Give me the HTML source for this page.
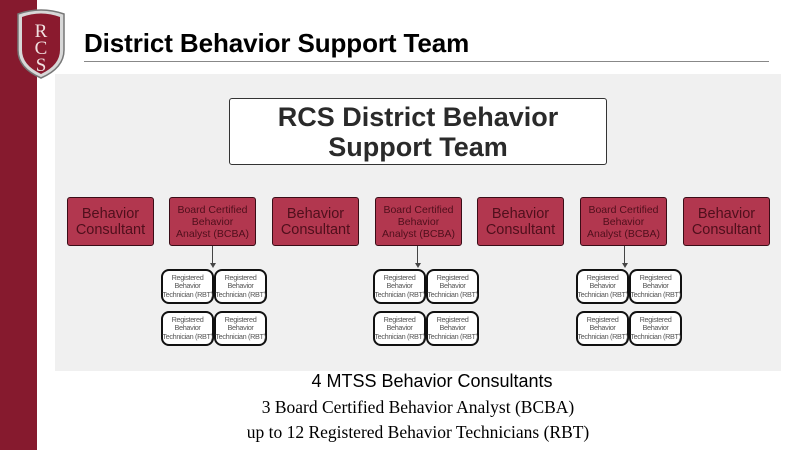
<!DOCTYPE html>
<html><head><meta charset="utf-8"><style>
*{margin:0;padding:0;box-sizing:border-box}
body{width:800px;height:450px;background:#fff;position:relative;overflow:hidden;font-family:"Liberation Sans",sans-serif}
.a{position:absolute}
.strip{left:0;top:0;width:37px;height:450px;background:#861a2e}
.title{left:84px;top:28px;font-size:26px;font-weight:bold;color:#000;letter-spacing:-0.1px}
.rule{left:84px;top:61px;width:685px;height:1px;background:#888}
.grey{left:55px;top:74px;width:726px;height:297px;background:#f0f0f0}
.top{left:229px;top:98px;width:378px;height:67px;background:#fff;border:1.5px solid #333;border-radius:3px;text-align:center;font-size:27px;font-weight:bold;color:#2a2a2a;line-height:30px;padding-top:3px}
.m{top:197px;width:87px;height:49px;background:#b2374f;border:1.5px solid #3a0c16;border-radius:3px;color:#4f0f1c;text-align:center;display:flex;align-items:center;justify-content:center}
.c{font-size:14.5px;line-height:16px}
.b{font-size:10.5px;line-height:12px}
.r{width:53px;height:35px;background:#fff;border:2px solid #111;border-radius:8px;font-size:7.3px;line-height:8.5px;color:#555;text-align:center;display:flex;align-items:center;justify-content:center;white-space:nowrap;letter-spacing:-0.35px;overflow:visible}
.ln{width:1px;height:18px;background:#444}
.ah{width:0;height:0;border-left:3px solid transparent;border-right:3px solid transparent;border-top:5px solid #444}
.t1{left:0;width:864px;top:371px;text-align:center;font-size:18px;color:#000}
.s{font-family:"Liberation Serif",serif;font-size:17.5px;color:#000;text-align:center;left:0;width:836px}
</style></head><body>
<div class="a strip"></div>
<svg class="a" style="left:14px;top:8px" width="54" height="72" viewBox="0 0 54 72">
<path d="M4 6 Q27 -2 50 6 L50 42 Q50 60 27 70 Q4 60 4 42 Z" fill="#d8d8d8" stroke="#777" stroke-width="1.5"/>
<path d="M8 9 Q27 2 46 9 L46 42 Q46 57 27 66 Q8 57 8 42 Z" fill="#8a1a2e"/>
<text x="27" y="29" font-family="Liberation Serif" font-size="19" fill="#f0e0e0" text-anchor="middle">R</text>
<text x="27" y="46" font-family="Liberation Serif" font-size="19" fill="#f0e0e0" text-anchor="middle">C</text>
<text x="27" y="63" font-family="Liberation Serif" font-size="19" fill="#f0e0e0" text-anchor="middle">S</text>
</svg>
<div class="a title">District Behavior Support Team</div>
<div class="a rule"></div>
<div class="a grey"></div>
<div class="a top">RCS District Behavior<br>Support Team</div>

<div class="a m c" style="left:67px">Behavior<br>Consultant</div>
<div class="a m b" style="left:169px">Board Certified<br>Behavior<br>Analyst (BCBA)</div>
<div class="a m c" style="left:272px">Behavior<br>Consultant</div>
<div class="a m b" style="left:375px">Board Certified<br>Behavior<br>Analyst (BCBA)</div>
<div class="a m c" style="left:477px">Behavior<br>Consultant</div>
<div class="a m b" style="left:580px">Board Certified<br>Behavior<br>Analyst (BCBA)</div>
<div class="a m c" style="left:683px">Behavior<br>Consultant</div>

<div class="a ln" style="left:212px;top:246px"></div><div class="a ah" style="left:209.5px;top:263px"></div>
<div class="a ln" style="left:417px;top:246px"></div><div class="a ah" style="left:414.5px;top:263px"></div>
<div class="a ln" style="left:624px;top:246px"></div><div class="a ah" style="left:621.5px;top:263px"></div>

<div class="a r" style="left:161px;top:269px">Registered<br>Behavior<br>Technician (RBT)</div>
<div class="a r" style="left:214px;top:269px">Registered<br>Behavior<br>Technician (RBT)</div>
<div class="a r" style="left:161px;top:311px">Registered<br>Behavior<br>Technician (RBT)</div>
<div class="a r" style="left:214px;top:311px">Registered<br>Behavior<br>Technician (RBT)</div>

<div class="a r" style="left:373px;top:269px">Registered<br>Behavior<br>Technician (RBT)</div>
<div class="a r" style="left:426px;top:269px">Registered<br>Behavior<br>Technician (RBT)</div>
<div class="a r" style="left:373px;top:311px">Registered<br>Behavior<br>Technician (RBT)</div>
<div class="a r" style="left:426px;top:311px">Registered<br>Behavior<br>Technician (RBT)</div>

<div class="a r" style="left:576px;top:269px">Registered<br>Behavior<br>Technician (RBT)</div>
<div class="a r" style="left:629px;top:269px">Registered<br>Behavior<br>Technician (RBT)</div>
<div class="a r" style="left:576px;top:311px">Registered<br>Behavior<br>Technician (RBT)</div>
<div class="a r" style="left:629px;top:311px">Registered<br>Behavior<br>Technician (RBT)</div>

<div class="a t1">4 MTSS Behavior Consultants</div>
<div class="a s" style="top:397px">3 Board Certified Behavior Analyst (BCBA)</div>
<div class="a s" style="top:422px">up to 12 Registered Behavior Technicians (RBT)</div>
</body></html>
